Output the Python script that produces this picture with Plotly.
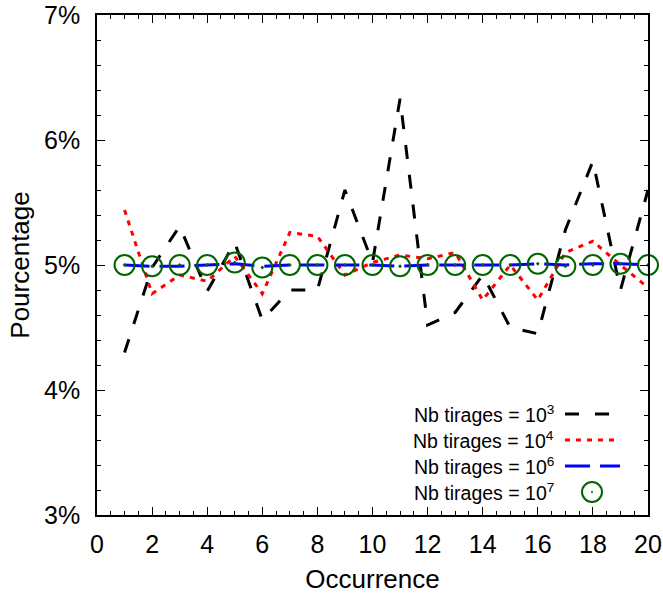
import plotly.graph_objects as go

occ = list(range(1, 21))
n1e3 = [4.30, 4.98, 5.31, 4.79, 5.18, 4.56, 4.80, 4.80, 5.60, 5.02,
        6.33, 4.52, 4.62, 4.92, 4.50, 4.45, 5.28, 5.83, 4.80, 5.60]
n1e4 = [5.44, 4.77, 4.92, 4.87, 5.07, 4.77, 5.26, 5.23, 4.92, 5.02,
        5.08, 5.05, 5.10, 4.72, 5.00, 4.72, 5.10, 5.19, 5.00, 4.82]
n1e6 = [5.00, 4.99, 4.99, 5.00, 5.01, 4.99, 5.00, 5.00, 5.00, 5.00,
        4.99, 5.00, 5.00, 5.00, 5.00, 5.01, 5.00, 5.01, 5.01, 5.00]
n1e7 = [5.00, 4.99, 5.00, 5.00, 5.02, 4.98, 5.00, 5.00, 5.00, 5.00,
        4.99, 5.00, 5.00, 5.00, 5.00, 5.01, 4.99, 5.00, 5.01, 5.00]
labels = ["Nb tirages = 10<sup>3</sup>", "Nb tirages = 10<sup>4</sup>",
          "Nb tirages = 10<sup>6</sup>", "Nb tirages = 10<sup>7</sup>"]

FONT = "Liberation Sans, Arial, sans-serif"
BLACK_DASH = "14px,16px"
RED_DASH = "5px,6px"
BLUE_DASH = "25px,10px"
GREEN = "#006400"

fig = go.Figure()
fig.add_trace(go.Scatter(x=occ, y=n1e3, mode="lines",
                         line=dict(color="black", width=3, dash=BLACK_DASH)))
fig.add_trace(go.Scatter(x=occ, y=n1e4, mode="lines",
                         line=dict(color="red", width=3, dash=RED_DASH)))
fig.add_trace(go.Scatter(x=occ, y=n1e6, mode="lines",
                         line=dict(color="blue", width=3, dash=BLUE_DASH)))
fig.add_trace(go.Scatter(x=occ, y=n1e7, mode="markers", cliponaxis=False,
                         marker=dict(symbol="circle-open-dot", size=20, color=GREEN,
                                     line=dict(color=GREEN, width=2))))

# gnuplot-style key: text right-aligned, sample to the right
L, R, T, B = 97, 648, 15, 515
PW, PH = R - L, B - T
def px(x):
    return (x - L) / PW
def py(y):
    return (B - y) / PH

key_y = [414, 440, 466, 492]
for i, lab in enumerate(labels):
    fig.add_annotation(text=lab, xref="paper", yref="paper", x=px(556),
                       y=py(key_y[i]), xanchor="right", yanchor="middle",
                       showarrow=False, font=dict(family=FONT, size=19.5, color="black"))
styles = [("black", BLACK_DASH), ("red", RED_DASH), ("blue", BLUE_DASH)]
for i, (c, d) in enumerate(styles):
    fig.add_shape(type="line", xref="paper", yref="paper",
                  x0=px(565), x1=px(620), y0=py(key_y[i]), y1=py(key_y[i]),
                  line=dict(color=c, width=3, dash=d))
fig.add_shape(type="circle", xref="paper", yref="paper",
              x0=px(582), x1=px(602), y0=py(key_y[3] + 10), y1=py(key_y[3] - 10),
              line=dict(color=GREEN, width=2))
fig.add_shape(type="circle", xref="paper", yref="paper",
              x0=px(591), x1=px(593), y0=py(key_y[3] + 1), y1=py(key_y[3] - 1),
              line=dict(color=GREEN, width=0), fillcolor=GREEN)

axis_common = dict(showline=True, linecolor="black", linewidth=1.5, mirror="ticks",
                   ticks="inside", ticklen=8, tickwidth=1, tickcolor="black",
                   showgrid=False, zeroline=False, automargin=False,
                   tickfont=dict(family=FONT, size=25, color="black"))
fig.update_xaxes(range=[0, 20], dtick=2, tick0=0, ticklabelstandoff=6,
                 minor=dict(ticks="inside", ticklen=4, dtick=0.5, tickcolor="black", showgrid=False),
                 title=dict(text="Occurrence", font=dict(family=FONT, size=26, color="black"), standoff=14),
                 **axis_common)
fig.update_yaxes(range=[3, 7], dtick=1, tick0=3, ticksuffix="%", ticklabelstandoff=10,
                 minor=dict(ticks="inside", ticklen=4, dtick=0.2, tickcolor="black", showgrid=False),
                 title=dict(text="Pourcentage", font=dict(family=FONT, size=26, color="black"), standoff=7),
                 **axis_common)
fig.update_layout(width=663, height=594, showlegend=False,
                  margin=dict(l=L, r=663 - R, t=T, b=594 - B),
                  plot_bgcolor="white", paper_bgcolor="white",
                  font=dict(family=FONT, color="black"))
fig.write_html("out.html")
